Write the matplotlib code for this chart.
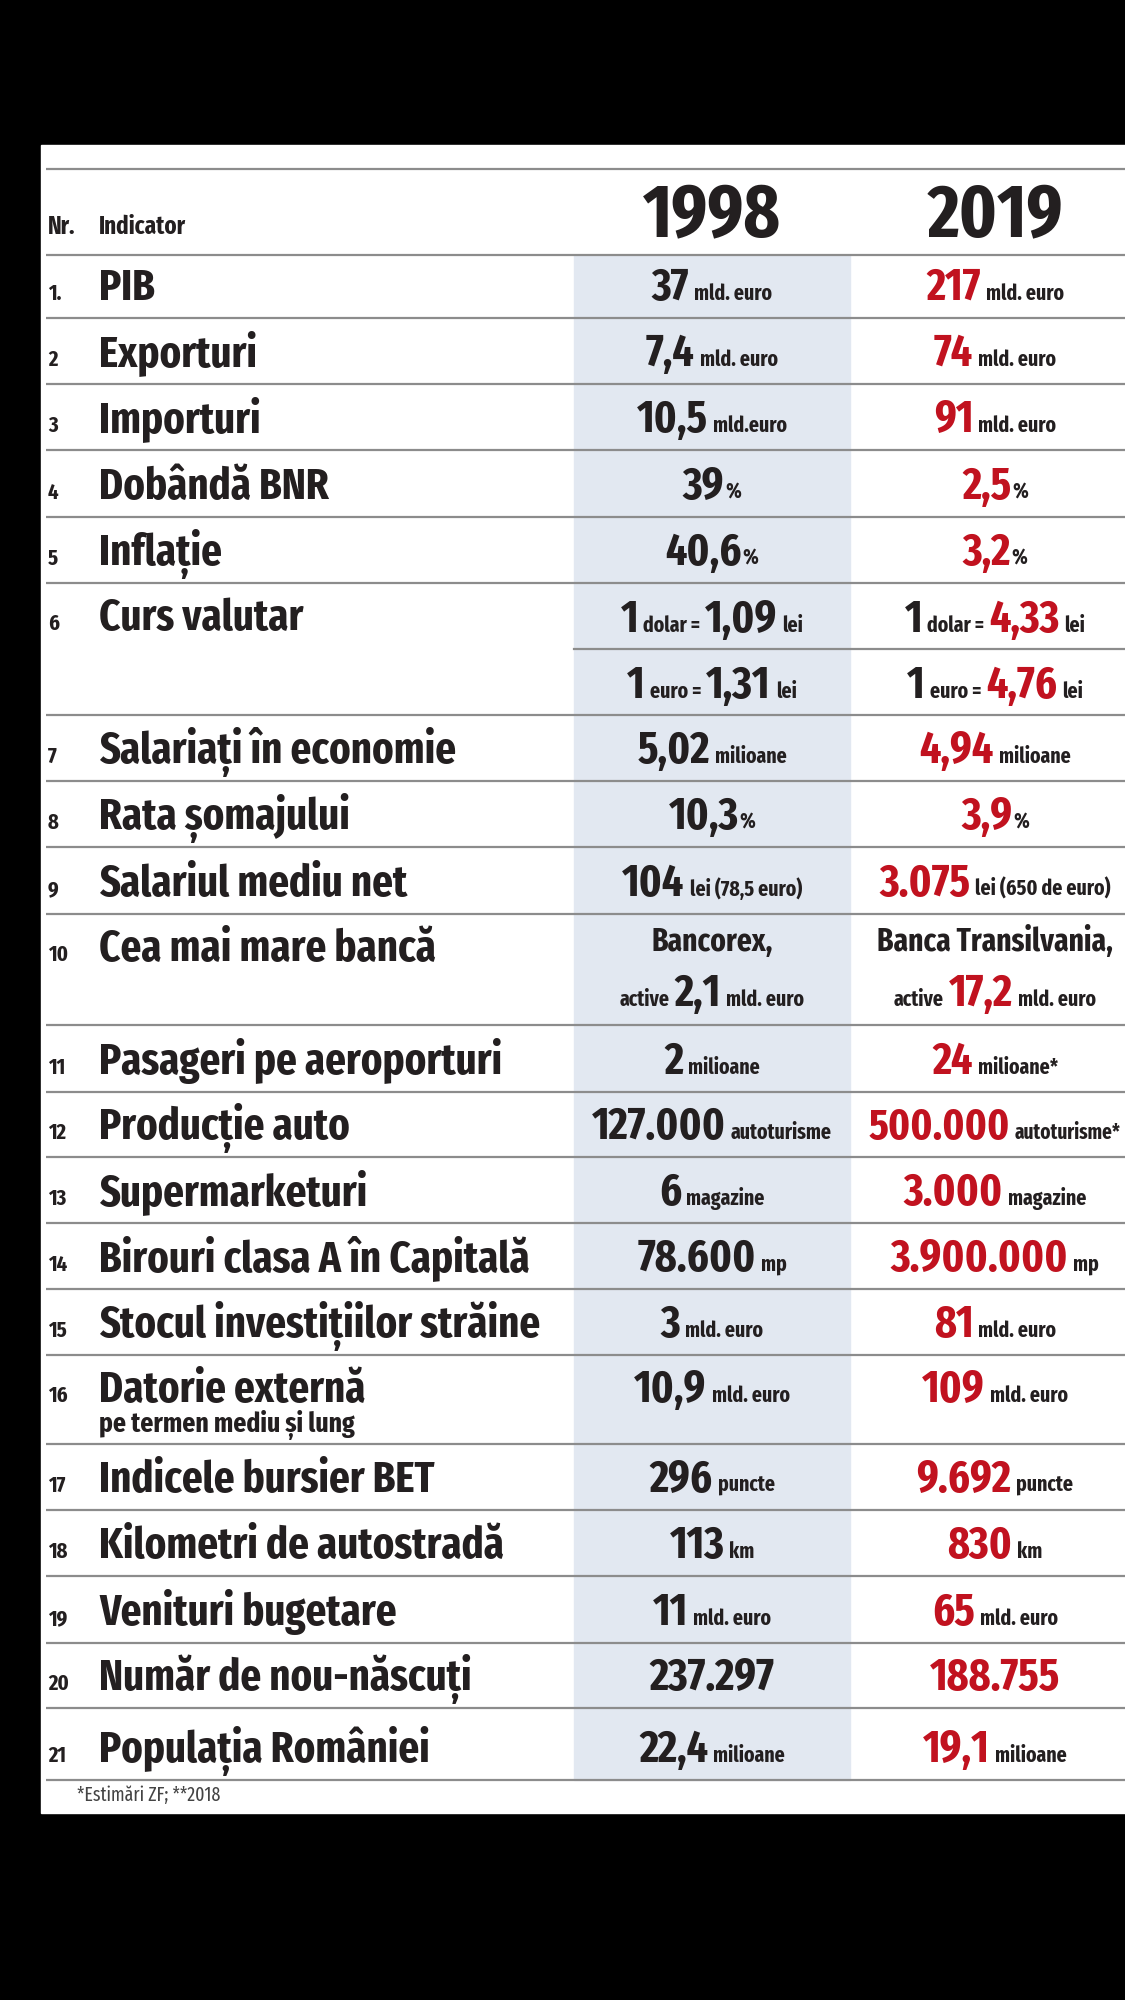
import os
import re
import matplotlib
matplotlib.use("Agg")
import matplotlib.pyplot as plt
from matplotlib import font_manager as fm
from matplotlib.patches import Rectangle

DARK = '#231f20'
RED = '#c1121f'
BLUE = '#e2e8f1'
GRID = '#8c8c8c'

# date tabel
years = ["1998", "2019"]
nr = ["1.", "2", "3", "4", "5", "6", "7", "8", "9", "10", "11",
      "12", "13", "14", "15", "16", "17", "18", "19", "20", "21"]
indicatori = [
    "PIB", "Exporturi", "Importuri", "Dobândă BNR", "Inflație",
    "Curs valutar", "Salariați în economie", "Rata șomajului",
    "Salariul mediu net", "Cea mai mare bancă", "Pasageri pe aeroporturi",
    "Producție auto", "Supermarketuri", "Birouri clasa A în Capitală",
    "Stocul investițiilor străine", "Datorie externă",
    "Indicele bursier BET", "Kilometri de autostradă", "Venituri bugetare",
    "Număr de nou-născuți", "Populația României",
]
subtitlu = {15: "pe termen mediu și lung"}
# {x} = cifra mare (rosie in 2019), <x> = cifra mare neagra, [x] = text mediu, restul = unitate
val_1998 = [
    "{37} mld. euro", "{7,4} mld. euro", "{10,5} mld.euro", "{39}%", "{40,6}%",
    "{1} dolar = {1,09} lei|{1} euro = {1,31} lei",
    "{5,02} milioane", "{10,3}%", "{104} lei (78,5 euro)",
    "[Bancorex,]|active {2,1} mld. euro",
    "{2} milioane", "{127.000} autoturisme", "{6} magazine", "{78.600} mp",
    "{3} mld. euro", "{10,9} mld. euro", "{296} puncte", "{113} km",
    "{11} mld. euro", "{237.297}", "{22,4} milioane",
]
val_2019 = [
    "{217} mld. euro", "{74} mld. euro", "{91} mld. euro", "{2,5}%", "{3,2}%",
    "<1> dolar = {4,33} lei|<1> euro = {4,76} lei",
    "{4,94} milioane", "{3,9}%", "{3.075} lei (650 de euro)",
    "[Banca Transilvania,]|active {17,2} mld. euro",
    "{24} milioane*", "{500.000} autoturisme*", "{3.000} magazine",
    "{3.900.000} mp", "{81} mld. euro", "{109} mld. euro", "{9.692} puncte",
    "{830} km", "{65} mld. euro", "{188.755}", "{19,1} milioane",
]
nota = "*Estimări ZF; **2018"


def pick_font(weight):
    """cauta un font sans ingust (condensed / narrow) instalat"""
    best = None
    for f in fm.fontManager.ttflist:
        txt = (f.name + os.path.basename(f.fname)).lower()
        txt = txt.replace('-', '').replace(' ', '').replace('_', '')
        if f.style != 'normal' or 'mono' in txt or 'serif' in txt or 'cjk' in txt:
            continue
        w = f.weight if isinstance(f.weight, (int, float)) else fm.weight_dict.get(f.weight, 400)
        if w != weight:
            continue
        if 'extracondensed' in txt:
            s = 4
        elif 'semicondensed' in txt or 'ultracondensed' in txt:
            s = 2
        elif 'condensed' in txt or 'narrow' in txt:
            s = 3
        else:
            continue
        if best is None or s > best[0]:
            best = (s, f.fname)
    return best[1] if best else None


BOLD_FILE = pick_font(700)
REG_FILE = pick_font(400) or BOLD_FILE


def fp(size, bold=True):
    path = BOLD_FILE if bold else REG_FILE
    if path:
        return fm.FontProperties(fname=path, size=size)
    return fm.FontProperties(family='DejaVu Sans', weight='bold' if bold else 'normal',
                             stretch='condensed', size=size)


# layout (pixeli)
W, H = 1125, 2000
borders = [255, 318, 384, 450, 517, 583, 715, 781, 847, 914, 1025, 1092,
           1157, 1223, 1289, 1355, 1444, 1510, 1576, 1643, 1708, 1780]
x_nr, x_lab = 48, 99
col_l, col_r = 574, 850
cx = [712, 995]
maxw = [268, 252]

fig = plt.figure(figsize=(W / 100, H / 100), dpi=100, facecolor='black')
ax = fig.add_axes([0, 0, 1, 1])
ax.set_xlim(0, W)
ax.set_ylim(H, 0)
ax.axis('off')
rend = fig.canvas.get_renderer()

ax.add_patch(Rectangle((41, 145), W - 41, 1813 - 145, color='white', zorder=0))
ax.add_patch(Rectangle((col_l, borders[0]), col_r - col_l, borders[-1] - borders[0],
                       color=BLUE, zorder=1))

for y in [169] + borders:
    ax.plot([46, W], [y, y], color=GRID, lw=1.6, zorder=2, solid_capstyle='butt')
# linia interioara la cursul valutar
ax.plot([col_l, W], [649, 649], color=GRID, lw=1.6, zorder=2)


def width(t):
    return t.get_window_extent(rend).width


SIZES = {'big': 32.5, 'mid': 23, 'small': 15.5}


def draw_cell(s, x0, y, accent, limit):
    parts = re.findall(r'\{[^}]*\}|<[^>]*>|\[[^\]]*\]|[^{<\[]+', s)
    items = []
    for p in parts:
        if p.startswith('{'):
            items.append((p[1:-1], 'big', accent))
        elif p.startswith('<'):
            items.append((p[1:-1], 'big', DARK))
        elif p.startswith('['):
            items.append((p[1:-1], 'mid', DARK))
        elif p.strip():
            items.append((p.strip(), 'small', DARK))
    scale = 1.0
    for _ in range(2):
        texts = [ax.text(0, y, txt, color=col, fontproperties=fp(SIZES[k] * scale),
                         va='baseline', ha='left', zorder=3) for txt, k, col in items]
        gaps = [(1 if txt.startswith('%') else 5) * scale for txt, k, col in items[1:]]
        widths = [width(t) for t in texts]
        total = sum(widths) + sum(gaps)
        if total <= limit or scale < 1.0:
            break
        for t in texts:
            t.remove()
        scale = limit / total
    x = x0 - total / 2
    for t, w, g in zip(texts, widths, gaps + [0]):
        t.set_x(x)
        x += w + g


# header
ax.text(x_nr, 234, "Nr.", fontproperties=fp(18), color=DARK, va='baseline')
ax.text(x_lab, 234, "Indicator", fontproperties=fp(18), color=DARK, va='baseline')
for c, yr in zip(cx, years):
    ax.text(c, 236, yr, fontproperties=fp(54), color=DARK, ha='center', va='baseline')

# marimea etichetelor, ca sa incapa inainte de coloana albastra
lab_size = 33
probes = [ax.text(0, 0, s, fontproperties=fp(lab_size)) for s in indicatori]
wmax = max(width(t) for t in probes)
for t in probes:
    t.remove()
lab_size = min(lab_size, lab_size * 442 / wmax)

for i in range(len(indicatori)):
    top, bot = borders[i], borders[i + 1]
    base = top + 47 if i in (5, 9, 15) else bot - 18
    ax.text(x_nr, base, nr[i], fontproperties=fp(16), color=DARK, va='baseline')
    ax.text(x_lab, base, indicatori[i], fontproperties=fp(lab_size), color=DARK, va='baseline')
    if i in subtitlu:
        ax.text(x_lab, base + 30, subtitlu[i], fontproperties=fp(20), color=DARK, va='baseline')
    for c, vals, acc, lim in zip(cx, [val_1998, val_2019], [DARK, RED], maxw):
        lines = vals[i].split('|')
        if i == 5:
            ys = [top + 49, top + 115]
        elif i == 9:
            ys = [top + 37, top + 92]
        else:
            ys = [base]
        for ln, yy in zip(lines, ys):
            draw_cell(ln, c, yy, acc, lim)

ax.text(77, 1801, nota, fontproperties=fp(14, bold=False), color='#444444', va='baseline')

fig.savefig("out.png", dpi=100, facecolor='black')
